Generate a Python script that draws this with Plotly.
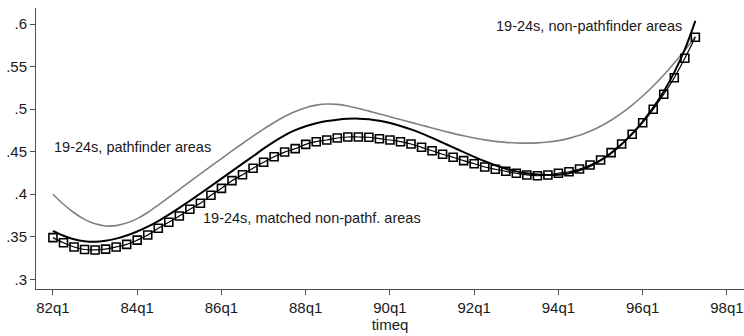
import plotly.graph_objects as go

# Quarter index: 0 = 82q1, 1 = 82q2, ... 61 = 97q2
quarters = list(range(62))

# Smoothed share of 19-24s, by area type
pathfinder = [
    0.4000, 0.3882, 0.3782, 0.3704, 0.3652, 0.3627, 0.3631, 0.3661, 0.3713, 0.3785,
    0.3872, 0.3963, 0.4055, 0.4147, 0.4238, 0.4329, 0.4419, 0.4508, 0.4596, 0.4682,
    0.4765, 0.4843, 0.4913, 0.4972, 0.5017, 0.5047, 0.5060, 0.5055, 0.5036, 0.5008,
    0.4976, 0.4943, 0.4910, 0.4877, 0.4844, 0.4811, 0.4778, 0.4746, 0.4715, 0.4686,
    0.4660, 0.4638, 0.4621, 0.4609, 0.4602, 0.4600, 0.4603, 0.4613, 0.4630, 0.4656,
    0.4692, 0.4739, 0.4798, 0.4869, 0.4952, 0.5047, 0.5154, 0.5272, 0.5401, 0.5541,
    0.5692, 0.5854,
]
non_pathfinder = [
    0.3570, 0.3512, 0.3470, 0.3446, 0.3440, 0.3452, 0.3478, 0.3515, 0.3562, 0.3618,
    0.3685, 0.3760, 0.3840, 0.3923, 0.4008, 0.4095, 0.4183, 0.4271, 0.4359, 0.4446,
    0.4535, 0.4618, 0.4692, 0.4752, 0.4798, 0.4833, 0.4859, 0.4876, 0.4886, 0.4888,
    0.4880, 0.4862, 0.4836, 0.4802, 0.4762, 0.4715, 0.4662, 0.4606, 0.4550, 0.4494,
    0.4439, 0.4387, 0.4340, 0.4300, 0.4268, 0.4245, 0.4231, 0.4226, 0.4229, 0.4247,
    0.4281, 0.4331, 0.4398, 0.4483, 0.4587, 0.4711, 0.4854, 0.5017, 0.5207, 0.5432,
    0.5702, 0.6037,
]
matched_non_pathf = [
    0.3490, 0.3430, 0.3380, 0.3350, 0.3345, 0.3355, 0.3380, 0.3410, 0.3460, 0.3520,
    0.3600, 0.3670, 0.3744, 0.3823, 0.3893, 0.3987, 0.4069, 0.4159, 0.4229, 0.4305,
    0.4375, 0.4440, 0.4495, 0.4535, 0.4586, 0.4617, 0.4637, 0.4660, 0.4672, 0.4672,
    0.4669, 0.4652, 0.4637, 0.4617, 0.4590, 0.4551, 0.4511, 0.4469, 0.4434, 0.4394,
    0.4358, 0.4320, 0.4293, 0.4269, 0.4246, 0.4226, 0.4217, 0.4226, 0.4246, 0.4264,
    0.4296, 0.4343, 0.4402, 0.4488, 0.4590, 0.4704, 0.4840, 0.4998, 0.5174, 0.5369,
    0.5597, 0.5844,
]

x_tick_vals = [0, 8, 16, 24, 32, 40, 48, 56, 64]
x_tick_text = ["82q1", "84q1", "86q1", "88q1", "90q1", "92q1", "94q1", "96q1", "98q1"]
y_tick_vals = [0.3, 0.35, 0.4, 0.45, 0.5, 0.55, 0.6]
y_tick_text = [".3", ".35", ".4", ".45", ".5", ".55", ".6"]

FONT = "Liberation Sans, Arial, Helvetica, sans-serif"
AXIS = "#4d4d4d"

fig = go.Figure()
fig.add_trace(go.Scatter(
    x=quarters, y=pathfinder, mode="lines",
    line=dict(color="#808080", width=1.6, shape="spline", smoothing=1),
    hoverinfo="skip",
))
fig.add_trace(go.Scatter(
    x=quarters, y=non_pathfinder, mode="lines",
    line=dict(color="#000000", width=2, shape="spline", smoothing=1),
    hoverinfo="skip",
))
fig.add_trace(go.Scatter(
    x=quarters, y=matched_non_pathf, mode="lines+markers",
    line=dict(color="#000000", width=1.2, shape="spline", smoothing=1),
    marker=dict(symbol="square-open", size=8, color="#000000",
                line=dict(width=1.6, color="#000000")),
    hoverinfo="skip",
))

labels = [
    ("19-24s, pathfinder areas", -0.1, 0.4550),
    ("19-24s, matched non-pathf. areas", 14.1, 0.372),
    ("19-24s, non-pathfinder areas", 41.9, 0.598),
]
for text, lx, ly in labels:
    fig.add_annotation(
        x=lx, y=ly, text=text, showarrow=False,
        xanchor="left", yanchor="middle", xref="x", yref="y",
        font=dict(family=FONT, size=14.5, color="#1a1a1a"),
    )

fig.update_layout(
    width=744, height=336,
    margin=dict(l=36, r=0, t=8, b=47),
    paper_bgcolor="white", plot_bgcolor="white",
    showlegend=False,
    font=dict(family=FONT, size=15, color="#1a1a1a"),
)
fig.update_xaxes(
    range=[-1.61, 65.62], tickvals=x_tick_vals, ticktext=x_tick_text,
    showgrid=False, zeroline=False, showline=True, linecolor=AXIS, linewidth=1,
    ticks="outside", ticklen=5, tickcolor=AXIS, tickwidth=1,
    title=dict(text="timeq", font=dict(family=FONT, size=15, color="#1a1a1a"), standoff=4),
    tickfont=dict(family=FONT, size=15, color="#1a1a1a"),
)
fig.update_yaxes(
    range=[0.2886, 0.6188], tickvals=y_tick_vals, ticktext=y_tick_text,
    showgrid=False, zeroline=False, showline=True, linecolor=AXIS, linewidth=1,
    ticks="outside", ticklen=5, tickcolor=AXIS, tickwidth=1,
    tickfont=dict(family=FONT, size=15, color="#1a1a1a"),
)

fig.write_html("out.html")
